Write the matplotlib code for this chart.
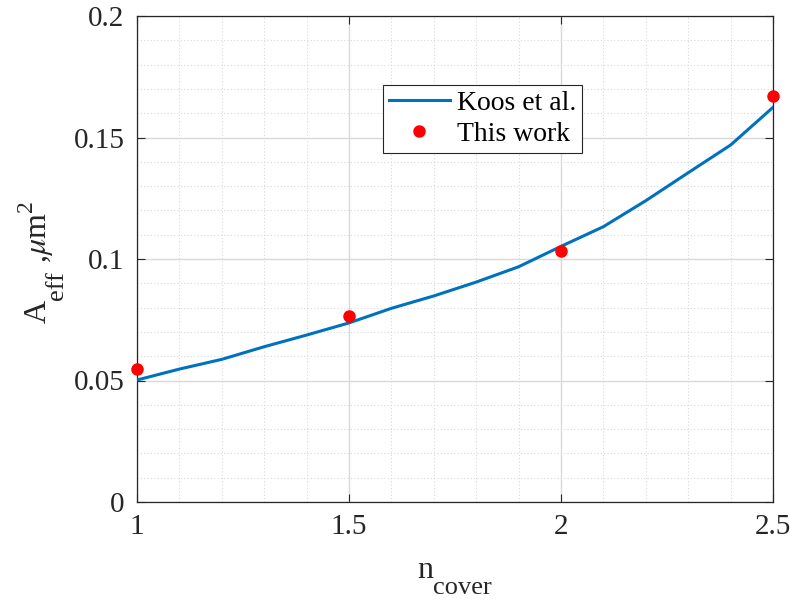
import matplotlib
matplotlib.use("Agg")
import matplotlib.pyplot as plt
from matplotlib.ticker import MultipleLocator

plt.rcParams['font.family'] = ['Liberation Serif', 'DejaVu Serif']
plt.rcParams['mathtext.fontset'] = 'stix'

# Koos et al. reference curve
n_koos = [1.0, 1.1, 1.2, 1.3, 1.4, 1.5, 1.6, 1.7, 1.8, 1.9, 2.0, 2.1, 2.2, 2.3, 2.4, 2.5]
aeff_koos = [0.0502, 0.0547, 0.0587, 0.0639, 0.0687, 0.0737, 0.0797, 0.0848, 0.0905,
             0.0968, 0.1052, 0.1133, 0.1240, 0.1355, 0.1469, 0.1624]

# this work
n_work = [1.0, 1.5, 2.0, 2.5]
aeff_work = [0.0546, 0.0765, 0.1033, 0.1671]

W, H = 790, 603
fig = plt.figure(figsize=(W / 100, H / 100), dpi=100)
ax = fig.add_axes([137 / W, 101 / H, 636 / W, 486 / H])

ax.plot(n_koos, aeff_koos, color='#0072BD', lw=2.2, label='Koos et al.', zorder=3)
ax.plot(n_work, aeff_work, 'o', color='red', ms=8, mec='red', label='This work',
        zorder=4, clip_on=False)

ax.set_xlim(1, 2.5)
ax.set_ylim(0, 0.2)
ax.xaxis.set_minor_locator(MultipleLocator(0.1))
ax.yaxis.set_minor_locator(MultipleLocator(0.01))
ax.set_xticks([1, 1.5, 2, 2.5], ['1', '1.5', '2', '2.5'])
ax.set_yticks([0, 0.05, 0.1, 0.15, 0.2], ['0', '0.05', '0.1', '0.15', '0.2'])

ax.grid(which='major', color='#d9d9d9', lw=1.0, ls='-')
ax.grid(which='minor', color='#d9d9d9', lw=0.8, ls=(0, (1, 2)))
ax.set_axisbelow(True)

ax.tick_params(which='major', direction='in', length=6, width=0.8, top=True, right=True,
               labelsize=21, colors='#262626', pad=9)
ax.tick_params(which='minor', length=0, top=True, right=True)
for s in ax.spines.values():
    s.set_color('#262626')
    s.set_linewidth(0.9)

leg = ax.legend(loc='upper left', bbox_to_anchor=(246 / 636, 1 - 69 / 486), fontsize=20,
                frameon=True, fancybox=False, edgecolor='#262626', framealpha=1,
                handlelength=2.2, handletextpad=0.25, borderpad=0.2, labelspacing=0.2,
                borderaxespad=0)
leg.get_frame().set_linewidth(0.8)

# axis labels built piece by piece (big subscripts, MATLAB-like)
renderer = fig.canvas.get_renderer()


def label_run(pieces, x0, y0, vertical=False):
    pos = x0 if not vertical else y0
    for txt, size, shift in pieces:
        if vertical:
            t = fig.text((x0 + shift) / W, pos / H, txt, fontsize=size, rotation=90,
                         rotation_mode='anchor', ha='left', va='baseline', color='#262626')
            pos = t.get_window_extent(renderer).y1
        else:
            t = fig.text(pos / W, (y0 - shift) / H, txt, fontsize=size,
                         ha='left', va='baseline', color='#262626')
            pos = t.get_window_extent(renderer).x1


label_run([('n', 23, 0), ('cover', 19, 16)], 417, H - 578)
label_run([('A', 23, 0), ('eff', 19, 17), (r' ,$\mu$m', 23, 0), ('2', 17, -14)],
          46, H - 323, vertical=True)

fig.savefig('out.png', dpi=100)
